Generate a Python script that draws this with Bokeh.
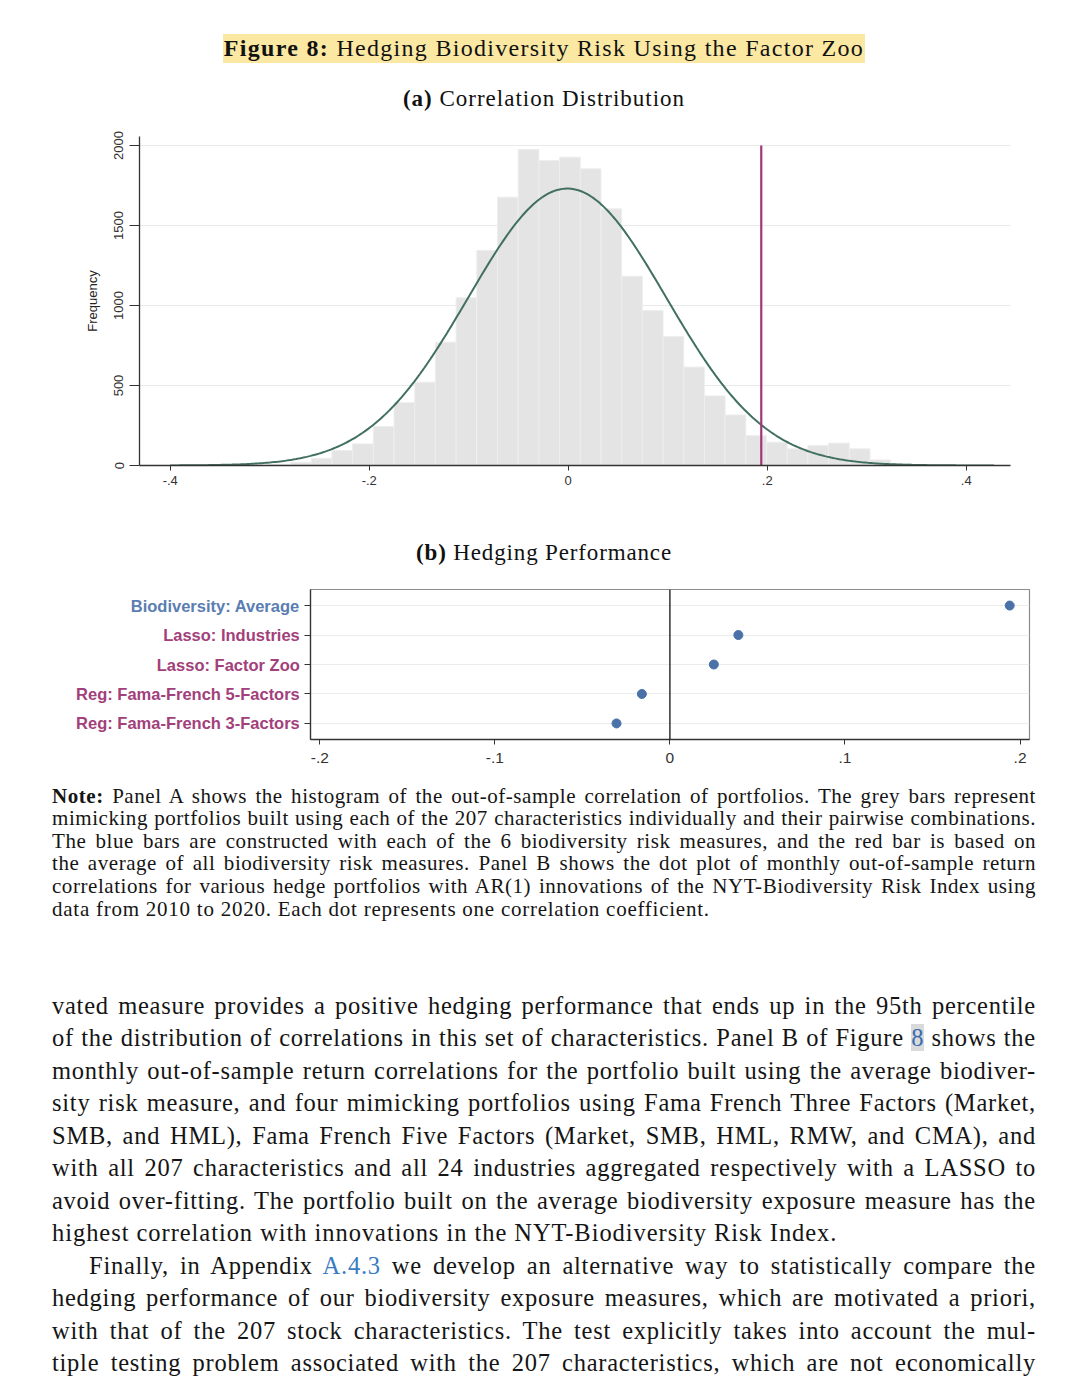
import numpy as np
from bokeh.plotting import figure
from bokeh.models import Range1d, FixedTicker, Div, Span, CustomJSTickFormatter
from bokeh.layouts import row
from bokeh.embed import file_html
from bokeh.resources import INLINE
from bokeh.core.properties import value

# ---------------- Panel A: histogram of correlations ----------------
bin_start = -0.3207
bin_width = 0.0208
hist_counts = [3, 8, 20, 45, 94, 135, 244, 394, 521, 771, 1048, 1344, 1677, 1975, 1906,
               1927, 1854, 1604, 1183, 969, 806, 615, 435, 316, 187, 146, 104, 125, 140,
               104, 35, 12, 5]
norm_mean = -0.001
norm_sd = 0.0995
curve_from, curve_to = -0.40, 0.428
avg_biodiversity_corr = 0.194
a_x_ticks = [-0.4, -0.2, 0.0, 0.2, 0.4]
a_y_ticks = [0, 500, 1000, 1500, 2000]

# ---------------- Panel B: hedging performance ----------------
hedge_labels = ["Reg: Fama-French 3-Factors", "Reg: Fama-French 5-Factors",
                "Lasso: Factor Zoo", "Lasso: Industries", "Biodiversity: Average"]
hedge_corr = [-0.0305, -0.016, 0.0251, 0.0391, 0.1941]
hedge_label_colors = ["#A2407B", "#A2407B", "#A2407B", "#A2407B", "#5A7DB2"]
b_x_ticks = [-0.2, -0.1, 0.0, 0.1, 0.2]

SANS = "Liberation Sans"
SERIF = "Liberation Serif"

fmt = CustomJSTickFormatter(code="""
if (Math.abs(tick) < 1e-9) { return '0'; }
var s = tick.toFixed(1);
return s.replace(/^(-?)0\\./, '$1.');
""")

# ---------- figure A ----------
edges = bin_start + bin_width * np.arange(len(hist_counts) + 1)
pa = figure(frame_width=871, frame_height=329, min_border_left=139, min_border_right=62,
            min_border_top=16, min_border_bottom=35,
            x_range=Range1d(-0.4309, 0.4445), y_range=Range1d(0, 2056),
            output_backend="svg", toolbar_location=None)
pa.outline_line_color = None
pa.xgrid.visible = False
pa.ygrid.ticker = FixedTicker(ticks=a_y_ticks[1:])
pa.ygrid.grid_line_color = "#E9E9E9"
pa.ygrid.grid_line_width = 1

pa.quad(left=edges[:-1], right=edges[1:], bottom=0, top=hist_counts,
        fill_color="#E4E4E4", line_color="#EEEEEE", line_width=1)

xs = np.linspace(curve_from, curve_to, 400)
total = float(np.sum(hist_counts))
ys = total * bin_width / (norm_sd * np.sqrt(2 * np.pi)) * np.exp(-0.5 * ((xs - norm_mean) / norm_sd) ** 2)
pa.line(xs, ys, line_color="#41705F", line_width=2)

pa.segment(x0=[avg_biodiversity_corr], y0=[0], x1=[avg_biodiversity_corr], y1=[a_y_ticks[-1]],
           line_color="#A0377A", line_width=2.2)

pa.xaxis.ticker = FixedTicker(ticks=a_x_ticks)
pa.xaxis.formatter = fmt
pa.yaxis.ticker = FixedTicker(ticks=a_y_ticks)
pa.yaxis.major_label_orientation = "vertical"
pa.yaxis.axis_label = "Frequency"
pa.yaxis.axis_label_text_font_style = "normal"
pa.yaxis.axis_label_text_font = SANS
pa.yaxis.axis_label_text_font_size = "13px"
pa.yaxis.axis_label_text_color = "#222222"
pa.yaxis.axis_label_standoff = 12
for ax in (pa.xaxis[0], pa.yaxis[0]):
    ax.axis_line_color = "#333333"
    ax.axis_line_width = 1.3
    ax.major_tick_line_color = "#333333"
    ax.major_tick_in = 0
    ax.minor_tick_line_color = None
    ax.major_label_text_font = SANS
    ax.major_label_text_font_size = "13px"
    ax.major_label_text_color = "#333333"
pa.xaxis.major_tick_out = 5
pa.xaxis.major_label_standoff = 5
pa.yaxis.major_tick_out = 10
pa.yaxis.major_label_standoff = 6

# ---------- figure B ----------
positions = list(range(1, len(hedge_labels) + 1))
b_y_range = Range1d(0.455, 5.545)

lf = figure(frame_width=302, frame_height=150, min_border_left=0, min_border_right=0,
            min_border_top=14, min_border_bottom=35, x_axis_type=None, y_axis_type=None,
            x_range=Range1d(0, 1), y_range=b_y_range,
            output_backend="svg", toolbar_location=None)
lf.outline_line_color = None
lf.grid.visible = False
lf.text(x=[1] * len(positions), y=positions, text=hedge_labels, x_offset=-2.7,
        text_align="right", text_baseline="middle", text_color=hedge_label_colors,
        text_font=value(SANS), text_font_size="16.5px", text_font_style="bold")

pb = figure(frame_width=719, frame_height=150, min_border_left=8, min_border_right=43,
            min_border_top=14, min_border_bottom=35,
            x_range=Range1d(-0.2053, 0.2054), y_range=b_y_range,
            output_backend="svg", toolbar_location=None)
pb.outline_line_color = "#8C8C8C"
pb.outline_line_width = 1.2
pb.xgrid.visible = False
pb.ygrid.ticker = FixedTicker(ticks=positions)
pb.ygrid.grid_line_color = "#ECECEC"
pb.add_layout(Span(location=0, dimension="height", line_color="#111111", line_width=1.3))
pb.scatter(x=hedge_corr, y=positions, size=9, fill_color="#4A71A8", line_color="#4A71A8")

pb.xaxis.ticker = FixedTicker(ticks=b_x_ticks)
pb.xaxis.formatter = fmt
pb.yaxis.ticker = FixedTicker(ticks=positions)
pb.yaxis.formatter = CustomJSTickFormatter(code="return '';")
for ax in (pb.xaxis[0], pb.yaxis[0]):
    ax.axis_line_color = "#333333"
    ax.axis_line_width = 1.3
    ax.major_tick_line_color = "#333333"
    ax.major_tick_in = 0
    ax.minor_tick_line_color = None
    ax.major_label_text_font = SANS
    ax.major_label_text_font_size = "15.5px"
    ax.major_label_text_color = "#333333"
pb.xaxis.major_tick_out = 5
pb.xaxis.major_label_standoff = 8
pb.yaxis.major_tick_out = 6
pb.yaxis.major_label_standoff = 0
pb.yaxis.major_label_text_font_size = "0px"

panel_b = row(lf, pb, spacing=0)

# ---------- text blocks ----------
title_html = f"""
<div style="position:relative;width:1072px;height:120px;font-family:'{SERIF}',serif;color:#111;">
  <div style="position:absolute;left:8px;width:1072px;top:34px;line-height:28px;text-align:center;font-size:24px;letter-spacing:1.3px;white-space:nowrap;">
    <span style="background:#FBE9A3;padding:1px 1px 2px 1px;"><b>Figure 8:</b>&nbsp;Hedging Biodiversity Risk Using the Factor Zoo</span>
  </div>
  <div style="position:absolute;left:8px;width:1072px;top:85px;line-height:28px;text-align:center;font-size:23px;letter-spacing:1.0px;white-space:nowrap;">
    <b>(a)</b>&nbsp;Correlation Distribution
  </div>
</div>"""
title_div = Div(text=title_html, width=1072, height=120, margin=(0, 0, 0, 0))

btitle_html = f"""
<div style="position:relative;width:1072px;height:75px;font-family:'{SERIF}',serif;color:#111;">
  <div style="position:absolute;left:8px;width:1072px;top:39px;line-height:28px;text-align:center;font-size:23px;letter-spacing:0.85px;white-space:nowrap;">
    <b>(b)</b>&nbsp;Hedging Performance
  </div>
</div>"""
btitle_div = Div(text=btitle_html, width=1072, height=75, margin=(0, 0, 0, 0))

note_lines = [
    "<b>Note:</b> Panel A shows the histogram of the out-of-sample correlation of portfolios. The grey bars represent",
    "mimicking portfolios built using each of the 207 characteristics individually and their pairwise combinations.",
    "The blue bars are constructed with each of the 6 biodiversity risk measures, and the red bar is based on",
    "the average of all biodiversity risk measures. Panel B shows the dot plot of monthly out-of-sample return",
    "correlations for various hedge portfolios with AR(1) innovations of the NYT-Biodiversity Risk Index using",
    "data from 2010 to 2020. Each dot represents one correlation coefficient.",
]
body_lines = [
    "vated measure provides a positive hedging performance that ends up in the 95th percentile",
    "of the distribution of correlations in this set of characteristics. Panel B of Figure <span style=\"color:#3A6DB0;background:#DADADA;\">8</span> shows the",
    "monthly out-of-sample return correlations for the portfolio built using the average biodiver-",
    "sity risk measure, and four mimicking portfolios using Fama French Three Factors (Market,",
    "SMB, and HML), Fama French Five Factors (Market, SMB, HML, RMW, and CMA), and",
    "with all 207 characteristics and all 24 industries aggregated respectively with a LASSO to",
    "avoid over-fitting. The portfolio built on the average biodiversity exposure measure has the",
    "highest correlation with innovations in the NYT-Biodiversity Risk Index.",
    "<span style=\"display:inline-block;width:37px;\"></span>Finally, in Appendix <span style=\"color:#3A7CC2;\">A.4.3</span> we develop an alternative way to statistically compare the",
    "hedging performance of our biodiversity exposure measures, which are motivated a priori,",
    "with that of the 207 stock characteristics. The test explicitly takes into account the mul-",
    "tiple testing problem associated with the 207 characteristics, which are not economically",
]
note_last = {5}
body_last = {7}


def block(lines, lasts, lh, fs, ls_full, ls_last):
    out = []
    for i, t in enumerate(lines):
        if i in lasts:
            style = f"text-align:left;letter-spacing:{ls_last}px;word-spacing:0px;"
        else:
            style = (f"text-align:justify;text-align-last:justify;letter-spacing:{ls_full}px;"
                     f"word-spacing:-3px;")
        out.append(f'<div style="height:{lh}px;line-height:{lh}px;font-size:{fs}px;{style}">{t}</div>')
    return "\n".join(out)


text_html = f"""
<div style="position:relative;width:1072px;height:611px;font-family:'{SERIF}',serif;color:#151515;">
  <div style="position:absolute;left:52px;width:984px;top:10.7px;">
    {block(note_lines, note_last, 22.6, 21, 0.55, 0.75)}
  </div>
  <div style="position:absolute;left:52px;width:984px;top:215.75px;">
    {block(body_lines, body_last, 32.5, 24.5, 0.75, 0.95)}
  </div>
</div>"""
text_div = Div(text=text_html, width=1072, height=611, margin=(0, 0, 0, 0))

open("out.html", "w").write(file_html([title_div, pa, btitle_div, panel_b, text_div], INLINE))
